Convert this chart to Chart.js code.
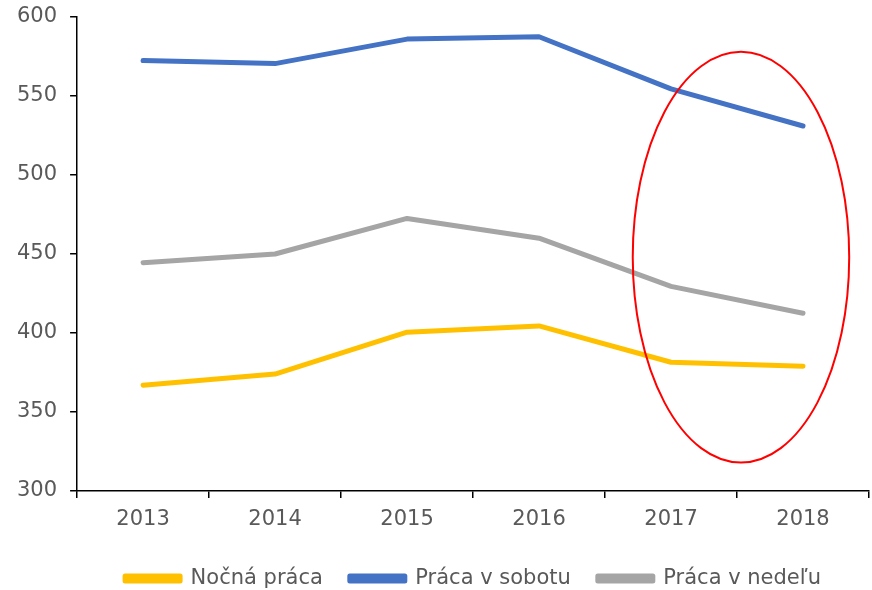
<!DOCTYPE html>
<html>
<head>
<meta charset="utf-8">
<script src="https://cdn.jsdelivr.net/npm/chart.js@4"></script>
<style>
  body { margin: 0; background: #fff; }
</style>
</head>
<body>
<canvas id="chart" width="872" height="590"></canvas>
<script>
const years = ['2013', '2014', '2015', '2016', '2017', '2018'];
const nocnaPraca = [367, 374, 400.5, 404.5, 381.5, 379];
const pracaSobota = [572.5, 570.5, 586, 587.5, 554.5, 531];
const pracaNedela = [444.5, 450, 472.5, 460, 429.5, 412.5];
const yTicks = [300, 350, 400, 450, 500, 550, 600];

// ellipse annotation, in data units (category index / value)
const highlight = { centerIndex: 4.53, centerValue: 448, halfIndex: 0.82, halfValue: 130 };

const ellipsePlugin = {
    id: 'ellipse',
    afterDatasetsDraw(chart) {
        const x = chart.scales.x, y = chart.scales.y;
        const step = x.getPixelForValue(1) - x.getPixelForValue(0);
        const cx = x.getPixelForValue(0) + highlight.centerIndex * step;
        const cy = y.getPixelForValue(highlight.centerValue);
        const rx = highlight.halfIndex * step;
        const ry = Math.abs(y.getPixelForValue(highlight.centerValue + highlight.halfValue) - cy);
        const ctx = chart.ctx;
        ctx.save();
        ctx.beginPath();
        ctx.ellipse(cx, cy, rx, ry, 0, 0, Math.PI * 2);
        ctx.strokeStyle = '#FF0000';
        ctx.lineWidth = 2;
        ctx.stroke();
        ctx.restore();
    }
};

function series(label, data, color) {
    return {
        label: label,
        data: data,
        borderColor: color,
        backgroundColor: color,
        borderWidth: 5,
        borderCapStyle: 'round',
        borderJoinStyle: 'round',
        pointRadius: 0,
        tension: 0
    };
}

const font = { family: 'DejaVu Sans', size: 21 };
const tickFont = { family: 'DejaVu Sans', size: 21, lineHeight: 1 };

const ctx = document.getElementById('chart').getContext('2d');
new Chart(ctx, {
    type: 'line',
    data: {
        labels: years,
        datasets: [
            series('Nočná práca', nocnaPraca, '#FFC000'),
            series('Práca v sobotu', pracaSobota, '#4472C4'),
            series('Práca v nedeľu', pracaNedela, '#A5A5A5')
        ]
    },
    options: {
        responsive: false,
        animation: false,
        layout: { padding: { top: 0, right: 3, left: 4, bottom: -9 } },
        plugins: {
            legend: {
                position: 'bottom',
                fullSize: false,
                labels: {
                    boxWidth: 55,
                    boxHeight: 5,
                    padding: 27,
                    color: '#595959',
                    font: font
                }
            },
            tooltip: { enabled: false }
        },
        scales: {
            x: {
                offset: true,
                grid: { offset: true, drawOnChartArea: false, color: '#000', tickLength: 7, lineWidth: 1.5 },
                border: { color: '#000', width: 1.5 },
                ticks: { color: '#595959', padding: 11, font: tickFont }
            },
            y: {
                min: 300,
                max: 600,
                afterBuildTicks(axis) { axis.ticks = yTicks.map(v => ({ value: v })); },
                afterFit(axis) { axis.paddingTop = 17; },
                grid: { drawOnChartArea: false, color: '#000', tickLength: 7, lineWidth: 1.5 },
                border: { color: '#000', width: 1.5 },
                ticks: { color: '#595959', padding: 13, font: font }
            }
        }
    },
    plugins: [ellipsePlugin]
});
</script>
</body>
</html>
